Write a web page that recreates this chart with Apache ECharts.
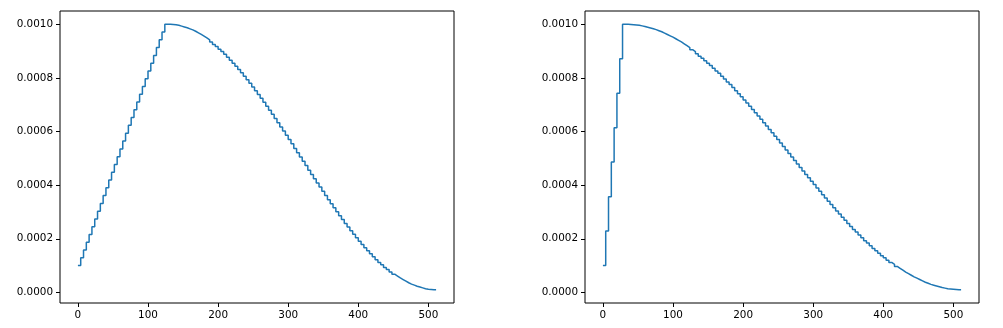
<!DOCTYPE html>
<html>
<head>
<meta charset="utf-8">
<script src="https://cdn.jsdelivr.net/npm/echarts@6/dist/echarts.min.js"></script>
<style>
html,body{margin:0;padding:0;background:#fff;}
#chart{width:1003px;height:328px;}
</style>
</head>
<body>
<div id="chart"></div>
<script>
// Learning rate per epoch (each epoch = 4 iterations)
const iterationsPerEpoch = 4;
const lastIteration = 511;

const leftLr = [
  0.000100,0.000129,0.000158,0.000187,0.000216,0.000245,0.000274,0.000303,
  0.000332,0.000361,0.000390,0.000419,0.000448,0.000477,0.000506,0.000535,
  0.000565,0.000594,0.000623,0.000652,0.000681,0.000710,0.000739,0.000768,
  0.000797,0.000826,0.000855,0.000884,0.000913,0.000942,0.000971,0.001000,
  0.001000,0.000999,0.000998,0.000996,0.000993,0.000990,0.000987,0.000983,
  0.000979,0.000974,0.000968,0.000962,0.000956,0.000949,0.000942,0.000934,
  0.000925,0.000917,0.000907,0.000898,0.000888,0.000877,0.000866,0.000855,
  0.000843,0.000831,0.000819,0.000806,0.000793,0.000780,0.000766,0.000752,
  0.000738,0.000724,0.000709,0.000694,0.000679,0.000664,0.000649,0.000633,
  0.000617,0.000602,0.000586,0.000570,0.000554,0.000537,0.000521,0.000505,
  0.000489,0.000473,0.000456,0.000440,0.000424,0.000408,0.000393,0.000377,
  0.000361,0.000346,0.000331,0.000316,0.000301,0.000286,0.000272,0.000257,
  0.000244,0.000230,0.000217,0.000204,0.000191,0.000179,0.000167,0.000155,
  0.000144,0.000133,0.000122,0.000112,0.000103,0.000093,0.000085,0.000076,
  0.000068,0.000061,0.000054,0.000048,0.000042,0.000036,0.000031,0.000027,
  0.000023,0.000020,0.000017,0.000014,0.000012,0.000011,0.000010,0.000010
];

const rightLr = [
  0.000100,0.000229,0.000357,0.000486,0.000614,0.000743,0.000871,0.001000,
  0.001000,0.000999,0.000998,0.000997,0.000996,0.000994,0.000992,0.000989,
  0.000986,0.000983,0.000980,0.000976,0.000972,0.000967,0.000962,0.000957,
  0.000952,0.000946,0.000940,0.000934,0.000927,0.000920,0.000913,0.000905,
  0.000898,0.000890,0.000881,0.000873,0.000864,0.000855,0.000846,0.000836,
  0.000826,0.000817,0.000806,0.000796,0.000785,0.000775,0.000764,0.000752,
  0.000741,0.000730,0.000718,0.000706,0.000694,0.000682,0.000670,0.000658,
  0.000646,0.000633,0.000621,0.000608,0.000595,0.000582,0.000570,0.000557,
  0.000544,0.000531,0.000518,0.000505,0.000492,0.000479,0.000466,0.000453,
  0.000440,0.000428,0.000415,0.000402,0.000389,0.000377,0.000364,0.000352,
  0.000340,0.000328,0.000316,0.000304,0.000292,0.000280,0.000269,0.000257,
  0.000246,0.000235,0.000225,0.000214,0.000204,0.000193,0.000184,0.000174,
  0.000164,0.000155,0.000146,0.000137,0.000129,0.000120,0.000112,0.000105,
  0.000097,0.000090,0.000083,0.000076,0.000070,0.000064,0.000058,0.000053,
  0.000048,0.000043,0.000038,0.000034,0.000030,0.000027,0.000024,0.000021,
  0.000018,0.000016,0.000014,0.000013,0.000012,0.000011,0.000010,0.000010
];

const xTicks = [0, 100, 200, 300, 400, 500];
const yTicks = [0.0000, 0.0002, 0.0004, 0.0006, 0.0008, 0.0010];

function toPairs(values) {
  const pts = values.map((v, i) => [i * iterationsPerEpoch, v]);
  pts.push([lastIteration, values[values.length - 1]]);
  return pts;
}

const font = 'DejaVu Sans';
const fontSize = 10.4;

function xAxisCfg(gi) {
  return {
    type: 'value', gridIndex: gi, position: 'bottom',
    min: -25.55, max: 536.55,
    axisLine: { show: false, onZero: false },
    splitLine: { show: false },
    axisTick: { show: true, length: 4, inside: false, customValues: xTicks,
      lineStyle: { color: '#000', width: 1 } },
    axisLabel: { customValues: xTicks, color: '#000', fontFamily: font, fontSize: fontSize,
      margin: 7, formatter: v => String(Math.round(v)) }
  };
}
function yAxisCfg(gi) {
  return {
    type: 'value', gridIndex: gi, position: 'left',
    min: -0.0000395, max: 0.0010495,
    axisLine: { show: false, onZero: false },
    splitLine: { show: false },
    axisTick: { show: true, length: 4, inside: false, customValues: yTicks,
      lineStyle: { color: '#000', width: 1 } },
    axisLabel: { customValues: yTicks, color: '#000', fontFamily: font, fontSize: fontSize,
      margin: 7, formatter: v => v.toFixed(4) }
  };
}

const chart = echarts.init(document.getElementById('chart'), null, { renderer: 'canvas' });
chart.setOption({
  animation: false,
  backgroundColor: '#fff',
  grid: [
    { left: 60, top: 11, width: 394, height: 292, show: true, borderColor: '#000', borderWidth: 1, containLabel: false },
    { left: 585, top: 11, width: 394, height: 292, show: true, borderColor: '#000', borderWidth: 1, containLabel: false }
  ],
  xAxis: [xAxisCfg(0), xAxisCfg(1)],
  yAxis: [yAxisCfg(0), yAxisCfg(1)],
  series: [
    { type: 'line', xAxisIndex: 0, yAxisIndex: 0, data: toPairs(leftLr), step: 'end',
      showSymbol: false, symbol: 'none', lineStyle: { color: '#1f77b4', width: 1.5 } },
    { type: 'line', xAxisIndex: 1, yAxisIndex: 1, data: toPairs(rightLr), step: 'end',
      showSymbol: false, symbol: 'none', lineStyle: { color: '#1f77b4', width: 1.5 } }
  ]
});
</script>
</body>
</html>
